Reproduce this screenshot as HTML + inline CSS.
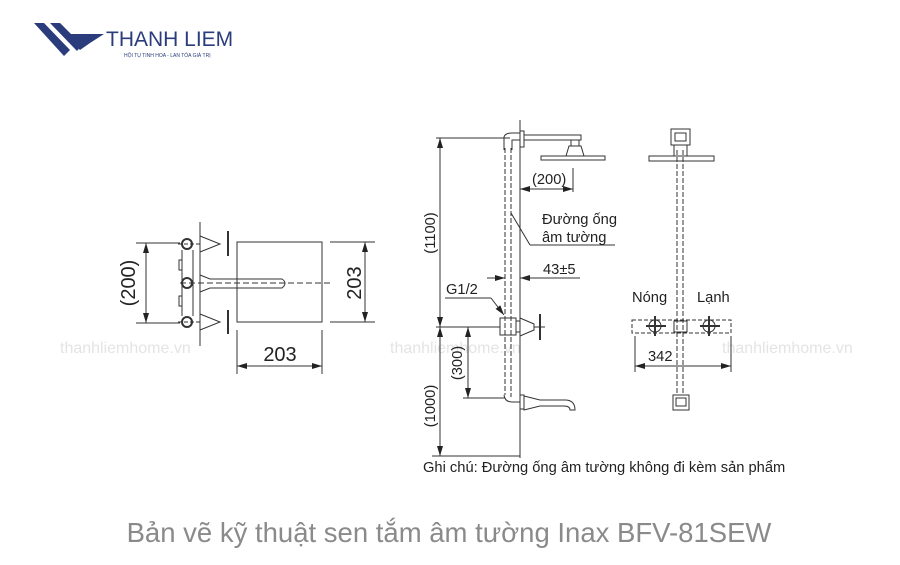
<!DOCTYPE html>
<html><head><meta charset="utf-8"><style>
html,body{margin:0;padding:0;background:#fff;width:900px;height:565px;overflow:hidden}
svg{display:block}
text{font-family:"Liberation Sans",sans-serif}
</style></head><body>
<svg width="900" height="565" viewBox="0 0 900 565" xmlns="http://www.w3.org/2000/svg">
<defs>
<marker id="a" viewBox="0 0 10 6" refX="10" refY="3" markerWidth="10" markerHeight="6" orient="auto-start-reverse" markerUnits="userSpaceOnUse"><path d="M0,0L10,3L0,6z" fill="#222"/></marker>
</defs>
<!-- logo -->
<g fill="#2b3c7c">
<polygon points="34,23 44,23 70,50 64,56"/>
<polygon points="50,23 60,23 82,45 77,51"/>
<polygon points="68,34 104,34 90,43 80,50 74,44"/>
</g>
<text x="106" y="46" font-size="21" fill="#2b3c7c">THANH LIEM</text>
<text x="124" y="57" font-size="5" fill="#2b3c7c">HỘI TỤ TINH HOA - LAN TỎA GIÁ TRỊ</text>
<!-- watermarks -->
<g font-size="16" fill="#e4e4e4">
<text x="60" y="353">thanhliemhome.vn</text>
<text x="390" y="353">thanhliemhome.vn</text>
<text x="722" y="353">thanhliemhome.vn</text>
</g>
<g stroke="#333" stroke-width="1" fill="none">
<!-- LEFT -->
<line x1="200" y1="222" x2="200" y2="346"/>
<rect x="237" y="242" width="85" height="80"/>
<line x1="136" y1="243" x2="180" y2="243"/>
<line x1="136" y1="323" x2="180" y2="323"/>
<line x1="146" y1="243" x2="146" y2="323" marker-start="url(#a)" marker-end="url(#a)"/>
<line x1="330" y1="242" x2="375" y2="242"/>
<line x1="330" y1="322" x2="375" y2="322"/>
<line x1="365" y1="242" x2="365" y2="322" marker-start="url(#a)" marker-end="url(#a)"/>
<line x1="237" y1="330" x2="237" y2="374"/>
<line x1="322" y1="330" x2="322" y2="374"/>
<line x1="237" y1="366" x2="322" y2="366" marker-start="url(#a)" marker-end="url(#a)"/>
<line x1="180" y1="283" x2="330" y2="283" stroke-dasharray="6,3"/>
<line x1="178" y1="244" x2="200" y2="244" stroke-dasharray="4,2"/>
<line x1="178" y1="322" x2="200" y2="322" stroke-dasharray="4,2"/>
<circle cx="187" cy="244" r="5" stroke-width="2"/>
<circle cx="187" cy="283" r="5" stroke-width="2"/>
<circle cx="187" cy="322" r="5" stroke-width="2"/>
<path d="M182,250 L182,316 M193,250 L193,316 M182,260 h-3 v10 h3 M182,296 h-3 v10 h3"/>
<path d="M200,236 L220,244 L200,252 z"/>
<path d="M200,314 L220,322 L200,330 z"/>
<path d="M200,275 L210,279 L282,279 Q288,283 282,288 L210,288 L200,292 z"/>
<line x1="228" y1="231" x2="228" y2="256" stroke-width="2"/>
<line x1="228" y1="310" x2="228" y2="334" stroke-width="2"/>
<!-- MIDDLE -->
<line x1="520" y1="120" x2="520" y2="458"/>
<line x1="432" y1="456" x2="520" y2="456"/>
<line x1="436" y1="138" x2="510" y2="138"/>
<line x1="436" y1="327" x2="500" y2="327"/>
<line x1="440" y1="138" x2="440" y2="327" marker-start="url(#a)" marker-end="url(#a)"/>
<line x1="440" y1="327" x2="440" y2="456" marker-start="url(#a)" marker-end="url(#a)"/>
<line x1="463" y1="398" x2="505" y2="398"/>
<line x1="468" y1="327" x2="468" y2="398" marker-start="url(#a)" marker-end="url(#a)"/>
<line x1="505" y1="148" x2="505" y2="395" stroke-dasharray="5,2"/>
<line x1="511" y1="148" x2="511" y2="395" stroke-dasharray="5,2"/>
<path d="M504,150 L504,137 Q505,133 512,133 L520,133 M512,150 L512,140 L520,140"/>
<rect x="520" y="131" width="4" height="16"/>
<rect x="524" y="135" width="57" height="5"/>
<path d="M571,140 h8 v6 h-8z M569,146 h12 l3,10 h-18z"/>
<rect x="541" y="156" width="64" height="4"/>
<line x1="573" y1="168" x2="573" y2="192"/>
<line x1="520" y1="189" x2="573" y2="189" marker-start="url(#a)" marker-end="url(#a)"/>
<line x1="511" y1="213" x2="530" y2="245"/>
<line x1="530" y1="245" x2="615" y2="245"/>
<line x1="487" y1="278" x2="505" y2="278" marker-end="url(#a)"/>
<line x1="540" y1="278" x2="520" y2="278" marker-end="url(#a)"/>
<line x1="520" y1="278" x2="580" y2="278"/>
<line x1="445" y1="298" x2="491" y2="298"/>
<line x1="491" y1="298" x2="504" y2="315" marker-end="url(#a)"/>
<rect x="500" y="318" width="16" height="17"/>
<rect x="516" y="321" width="4" height="11"/>
<path d="M520,318 L534,324 L534,330 L520,336z"/>
<line x1="534" y1="327" x2="545" y2="327"/>
<line x1="540" y1="314" x2="540" y2="340" stroke-width="2"/>
<path d="M504,395 Q505,402 512,402 L520,402 M511,395 L511,397"/>
<rect x="520" y="395" width="4" height="14"/>
<path d="M524,396 L540,400 L565,400 Q575,400 575,410 L570,410 Q570,406 564,406 L540,406 L524,410z"/>
<!-- RIGHT -->
<line x1="677" y1="150" x2="677" y2="395" stroke-dasharray="5,2"/>
<line x1="683" y1="150" x2="683" y2="395" stroke-dasharray="5,2"/>
<rect x="671" y="129" width="19" height="16"/>
<rect x="675" y="133" width="11" height="8"/>
<path d="M674,145 h13 v11 h-13z"/>
<rect x="649" y="156" width="65" height="5"/>
<rect x="632" y="320" width="99" height="13" stroke-dasharray="4,2"/>
<rect x="674" y="321" width="13" height="11"/>
<path d="M646,326 h20 M655,316 v20 M700,326 h20 M709,316 v20" stroke-width="2"/>
<circle cx="655" cy="326" r="6"/><circle cx="709" cy="326" r="6"/>
<line x1="635" y1="336" x2="635" y2="372"/>
<line x1="731" y1="336" x2="731" y2="372"/>
<line x1="635" y1="366" x2="731" y2="366" marker-start="url(#a)" marker-end="url(#a)"/>
<rect x="673" y="395" width="16" height="15"/>
<rect x="676" y="398" width="10" height="8"/>
</g>
<g fill="#222" font-size="14.7">
<text x="0" y="0" transform="translate(135,283) rotate(-90)" text-anchor="middle" font-size="20">(200)</text>
<text x="0" y="0" transform="translate(361,283) rotate(-90)" text-anchor="middle" font-size="20">203</text>
<text x="280" y="361" text-anchor="middle" font-size="20">203</text>
<text x="0" y="0" transform="translate(435,233) rotate(-90)" text-anchor="middle">(1100)</text>
<text x="0" y="0" transform="translate(435,406) rotate(-90)" text-anchor="middle">(1000)</text>
<text x="0" y="0" transform="translate(462,363) rotate(-90)" text-anchor="middle">(300)</text>
<text x="532" y="184">(200)</text>
<text x="542" y="224">Đường ống</text>
<text x="542" y="242">âm tường</text>
<text x="543" y="274">43±5</text>
<text x="446" y="294">G1/2</text>
<text x="632" y="302">Nóng</text>
<text x="697" y="302">Lạnh</text>
<text x="648" y="361">342</text>
<text x="423" y="472">Ghi chú: Đường ống âm tường không đi kèm sản phẩm</text>
</g>
<text x="449" y="542" text-anchor="middle" font-size="27.5" fill="#8a8a8a">Bản vẽ kỹ thuật sen tắm âm tường Inax BFV-81SEW</text>
</svg>
</body></html>
